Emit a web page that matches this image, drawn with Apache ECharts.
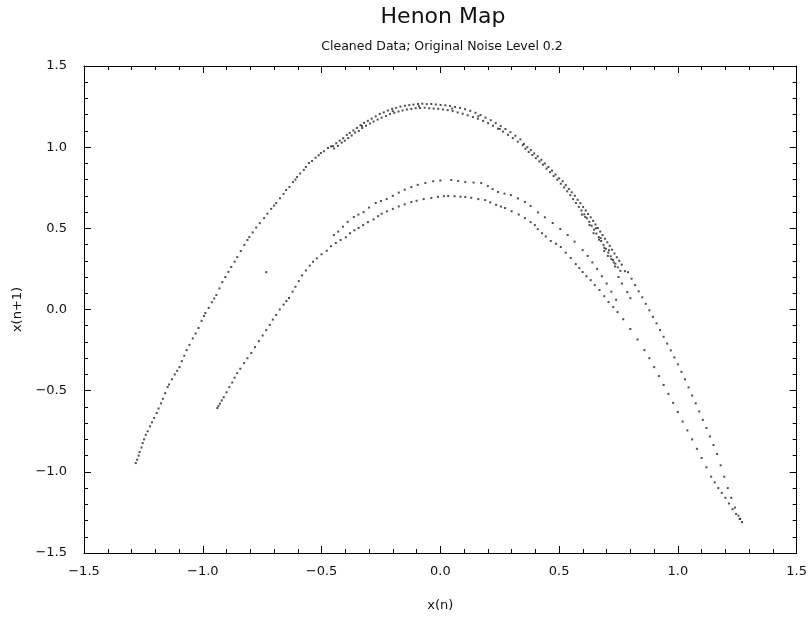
<!DOCTYPE html>
<html><head><meta charset="utf-8">
<script src="https://cdn.jsdelivr.net/npm/echarts@6/dist/echarts.min.js"></script>
<style>html,body{margin:0;background:#fff}#c{width:810px;height:628px}</style>
</head><body><div id="c"></div>
<script>
const titleText = 'Henon Map';
const subtitleText = 'Cleaned Data; Original Noise Level 0.2';
const xName = 'x(n)';
const yName = 'x(n+1)';
const axisMin = -1.5, axisMax = 1.5, axisStep = 0.5;

// outer parabola, left limb
const outerLeft = [[-1.282,-0.946],[-1.276,-0.925],[-1.27,-0.90],[-1.266,-0.878],[-1.258,-0.85],[-1.253,-0.823],[-1.247,-0.80],[-1.24,-0.772],[-1.232,-0.75],[-1.222,-0.72],[-1.214,-0.695],[-1.205,-0.668],[-1.194,-0.638],[-1.186,-0.61],[-1.176,-0.578],[-1.168,-0.55],[-1.158,-0.515],[-1.148,-0.478],[-1.142,-0.462],[-1.13,-0.43],[-1.118,-0.40],[-1.108,-0.378],[-1.098,-0.355],[-1.088,-0.318],[-1.078,-0.285],[-1.068,-0.25],[-1.056,-0.218],[-1.042,-0.178],[-1.03,-0.148],[-1.018,-0.114],[-1.005,-0.07],[-0.995,-0.04],[-0.989,-0.022],[-0.975,0.01],[-0.962,0.045],[-0.952,0.068],[-0.943,0.089],[-0.93,0.13],[-0.918,0.169],[-0.905,0.20],[-0.892,0.232],[-0.88,0.262],[-0.866,0.295],[-0.855,0.323],[-0.84,0.36],[-0.825,0.398],[-0.812,0.428],[-0.804,0.446],[-0.79,0.475],[-0.775,0.505],[-0.76,0.532],[-0.742,0.563],[-0.728,0.59],[-0.712,0.62],[-0.70,0.64],[-0.691,0.656],[-0.675,0.685],[-0.66,0.712],[-0.649,0.736],[-0.635,0.755],[-0.62,0.785],[-0.61,0.80],[-0.603,0.816],[-0.59,0.838],[-0.575,0.86],[-0.566,0.878],[-0.553,0.902],[-0.54,0.915],[-0.525,0.935],[-0.512,0.95],[-0.503,0.964],[-0.49,0.975],[-0.473,0.995],[-0.46,1.005]];

// outer parabola, top band
const outerTop = [[-0.452,1.006],[-0.447,0.992],[-0.438,1.024],[-0.431,1.008],[-0.424,1.04],[-0.415,1.028],[-0.409,1.055],[-0.402,1.04],[-0.394,1.076],[-0.388,1.056],[-0.381,1.088],[-0.373,1.072],[-0.366,1.103],[-0.359,1.09],[-0.351,1.118],[-0.343,1.1],[-0.336,1.136],[-0.329,1.118],[-0.321,1.15],[-0.313,1.132],[-0.305,1.162],[-0.296,1.146],[-0.289,1.176],[-0.281,1.158],[-0.272,1.19],[-0.264,1.17],[-0.255,1.205],[-0.247,1.182],[-0.238,1.214],[-0.229,1.192],[-0.221,1.226],[-0.212,1.204],[-0.203,1.236],[-0.194,1.212],[-0.186,1.242],[-0.176,1.22],[-0.168,1.25],[-0.159,1.226],[-0.149,1.255],[-0.141,1.232],[-0.131,1.259],[-0.122,1.236],[-0.113,1.262],[-0.104,1.24],[-0.094,1.266],[-0.085,1.241],[-0.076,1.268],[-0.066,1.243],[-0.057,1.265],[-0.047,1.24],[-0.038,1.266],[-0.028,1.238],[-0.019,1.263],[-0.009,1.236],[0.001,1.26],[0.011,1.232],[0.021,1.258],[0.031,1.228],[0.041,1.254],[0.052,1.222],[0.062,1.248],[0.073,1.214],[0.083,1.242],[0.094,1.206],[0.104,1.234],[0.115,1.196],[0.126,1.224],[0.137,1.186],[0.148,1.212],[0.158,1.175],[0.169,1.198],[0.18,1.162],[0.19,1.182],[0.201,1.148],[0.212,1.166],[0.222,1.132],[0.233,1.148],[0.243,1.114],[0.254,1.13],[0.264,1.096],[0.274,1.112],[0.285,1.076],[0.295,1.092],[0.305,1.056],[0.316,1.07],[0.326,1.034],[0.337,1.048],[0.347,1.012],[-0.2,1.222],[-0.09,1.252],[0.05,1.238],[0.16,1.19],[-0.33,1.13],[0.25,1.112]];

// outer parabola, right shoulder (wide dense band)
const outerRight = [[0.352,1.02],[0.358,0.99],[0.366,1.0],[0.372,0.97],[0.381,0.982],[0.387,0.952],[0.395,0.962],[0.402,0.932],[0.41,0.944],[0.417,0.912],[0.425,0.922],[0.432,0.892],[0.44,0.9],[0.447,0.868],[0.455,0.878],[0.462,0.846],[0.47,0.856],[0.477,0.822],[0.485,0.832],[0.492,0.8],[0.5,0.808],[0.507,0.775],[0.515,0.79],[0.521,0.752],[0.528,0.766],[0.534,0.728],[0.541,0.742],[0.547,0.704],[0.553,0.722],[0.559,0.68],[0.566,0.7],[0.571,0.656],[0.578,0.676],[0.583,0.632],[0.59,0.655],[0.594,0.61],[0.601,0.632],[0.606,0.586],[0.612,0.61],[0.617,0.562],[0.622,0.588],[0.627,0.54],[0.633,0.568],[0.637,0.516],[0.643,0.546],[0.647,0.492],[0.653,0.524],[0.657,0.468],[0.663,0.502],[0.667,0.446],[0.673,0.48],[0.677,0.422],[0.683,0.458],[0.687,0.398],[0.693,0.436],[0.697,0.374],[0.703,0.414],[0.707,0.35],[0.713,0.392],[0.717,0.328],[0.723,0.368],[0.727,0.305],[0.733,0.345],[0.737,0.282],[0.743,0.322],[0.747,0.26],[0.753,0.3],[0.758,0.238],[0.764,0.276],[0.777,0.236],[0.596,0.585],[0.628,0.52],[0.645,0.47],[0.668,0.43],[0.69,0.38],[0.705,0.33],[0.72,0.31],[0.735,0.265],[0.71,0.365],[0.675,0.44],[0.655,0.5],[0.61,0.57],[0.69,0.36],[0.73,0.29],[0.75,0.2],[0.765,0.16],[0.787,0.107],[0.8,0.07]];

// outer parabola, right limb down to the corner
const outerLow = [[0.79,0.23],[0.805,0.19],[0.82,0.15],[0.835,0.112],[0.85,0.075],[0.865,0.035],[0.88,-0.005],[0.895,-0.045],[0.91,-0.085],[0.925,-0.126],[0.94,-0.168],[0.955,-0.21],[0.97,-0.252],[0.985,-0.295],[1.0,-0.338],[1.015,-0.384],[1.03,-0.43],[1.045,-0.48],[1.06,-0.53],[1.075,-0.578],[1.09,-0.628],[1.105,-0.68],[1.12,-0.73],[1.135,-0.782],[1.15,-0.835],[1.165,-0.89],[1.18,-0.96],[1.195,-1.03],[1.21,-1.10],[1.225,-1.16],[1.24,-1.22],[1.255,-1.27],[1.262,-1.29],[1.27,-1.31]];

// inner parabola, lower strand
const innerLower = [[-0.939,-0.607],[-0.934,-0.595],[-0.928,-0.58],[-0.92,-0.56],[-0.912,-0.54],[-0.9,-0.51],[-0.888,-0.478],[-0.876,-0.45],[-0.866,-0.42],[-0.855,-0.392],[-0.842,-0.365],[-0.826,-0.33],[-0.812,-0.3],[-0.796,-0.268],[-0.78,-0.232],[-0.764,-0.195],[-0.748,-0.16],[-0.733,-0.127],[-0.718,-0.095],[-0.705,-0.062],[-0.691,-0.034],[-0.676,0.0],[-0.66,0.03],[-0.648,0.052],[-0.637,0.071],[-0.622,0.11],[-0.61,0.14],[-0.596,0.175],[-0.582,0.21],[-0.566,0.24],[-0.55,0.27],[-0.536,0.294],[-0.52,0.315],[-0.5,0.34],[-0.478,0.362],[-0.46,0.39],[-0.44,0.41],[-0.42,0.428],[-0.398,0.445],[-0.38,0.47],[-0.362,0.488],[-0.344,0.502],[-0.325,0.52],[-0.305,0.538],[-0.281,0.555],[-0.262,0.575],[-0.247,0.59],[-0.225,0.605],[-0.2,0.62],[-0.175,0.635],[-0.15,0.648],[-0.122,0.662],[-0.1,0.67],[-0.07,0.68],[-0.038,0.687],[-0.01,0.694],[0.015,0.698],[0.033,0.699],[0.06,0.698],[0.085,0.695],[0.105,0.693],[0.13,0.688],[0.16,0.68],[0.189,0.674],[0.21,0.66],[0.235,0.645],[0.255,0.634],[0.272,0.625],[0.3,0.605],[0.33,0.585],[0.356,0.563],[0.38,0.538],[0.398,0.52],[0.41,0.495],[0.428,0.47],[0.444,0.45],[0.465,0.422],[0.487,0.405],[0.507,0.385],[0.528,0.35],[0.549,0.317],[0.57,0.28],[0.585,0.255],[0.599,0.231],[0.615,0.205],[0.633,0.181],[0.65,0.15],[0.67,0.12],[0.69,0.082],[0.708,0.046],[0.728,0.015],[0.746,-0.016],[0.77,-0.06],[0.8,-0.12],[0.83,-0.185],[0.859,-0.25],[0.88,-0.3],[0.9,-0.355],[0.92,-0.41],[0.94,-0.465],[0.96,-0.52],[0.98,-0.575],[1.0,-0.632],[1.02,-0.69],[1.04,-0.745],[1.06,-0.80],[1.08,-0.858],[1.10,-0.915],[1.12,-0.972],[1.14,-1.03],[1.155,-1.065],[1.17,-1.10],[1.185,-1.13],[1.2,-1.16],[1.215,-1.195],[1.23,-1.23],[1.245,-1.26],[1.26,-1.29]];

// inner parabola, upper strand
const innerUpper = [[-0.448,0.459],[-0.43,0.48],[-0.41,0.51],[-0.39,0.54],[-0.364,0.57],[-0.345,0.585],[-0.323,0.60],[-0.3,0.628],[-0.272,0.656],[-0.25,0.668],[-0.226,0.68],[-0.2,0.70],[-0.175,0.72],[-0.15,0.738],[-0.122,0.754],[-0.095,0.768],[-0.063,0.779],[-0.03,0.79],[0.0,0.795],[0.046,0.798],[0.075,0.792],[0.105,0.785],[0.14,0.782],[0.172,0.779],[0.2,0.76],[0.22,0.742],[0.243,0.724],[0.27,0.714],[0.297,0.705],[0.327,0.684],[0.356,0.662],[0.38,0.638],[0.411,0.598],[0.44,0.568],[0.473,0.533],[0.505,0.496],[0.536,0.459],[0.565,0.418],[0.599,0.366],[0.62,0.33],[0.64,0.29],[0.66,0.25],[0.68,0.205],[0.70,0.16],[0.72,0.11],[0.74,0.06]];

// isolated stray points
const strays = [[-0.733,0.23]];

const chart = echarts.init(document.getElementById('c'));
const fmt = v => (v < 0 ? '\u2212' : '') + Math.abs(v).toFixed(1);
const FONT = 'DejaVu Sans';
const black = '#000';
const labelStyle = { color: '#111', fontFamily: FONT, fontSize: 13 };

function axis(extra) {
  return Object.assign({
    type: 'value', min: axisMin, max: axisMax, interval: axisStep,
    axisLine: { show: true, onZero: false, lineStyle: { color: black, width: 1 } },
    axisTick: { show: true, inside: true, length: 7, lineStyle: { color: black, width: 1 } },
    minorTick: { show: true, splitNumber: 5, length: 4, lineStyle: { color: black, width: 1 } },
    splitLine: { show: false },
    axisLabel: Object.assign({ show: true, formatter: fmt }, labelStyle)
  }, extra);
}

const mk = (data) => ({
  type: 'scatter', data: data, symbol: 'rect', symbolSize: 2,
  itemStyle: { color: '#222' }, silent: true, animation: false
});

chart.setOption({
  animation: false,
  graphic: [
    { type: 'text', x: 443, y: 6, style: { text: titleText, fontFamily: FONT, fontSize: 22, fill: '#111', textAlign: 'center', textVerticalAlign: 'top' } },
    { type: 'text', x: 442, y: 40, style: { text: subtitleText, fontFamily: FONT, fontSize: 12.5, fill: '#111', textAlign: 'center', textVerticalAlign: 'top' } }
  ],
  grid: { left: 84, right: 13, top: 66, bottom: 75 },
  xAxis: [
    axis({ position: 'bottom', name: xName, nameLocation: 'middle', nameGap: 46,
      nameTextStyle: labelStyle,
      axisLabel: Object.assign({ show: true, formatter: fmt, margin: 12 }, labelStyle) }),
    axis({ position: 'top', axisLabel: { show: false } })
  ],
  yAxis: [
    axis({ position: 'left', name: yName, nameLocation: 'middle', nameGap: 57, nameRotate: 90,
      nameTextStyle: labelStyle,
      axisLabel: Object.assign({ show: true, formatter: fmt, margin: 17 }, labelStyle) }),
    axis({ position: 'right', axisLabel: { show: false } })
  ],
  series: [mk(outerLeft), mk(outerTop), mk(outerRight), mk(outerLow), mk(innerLower), mk(innerUpper), mk(strays)]
});
</script>
</body></html>
